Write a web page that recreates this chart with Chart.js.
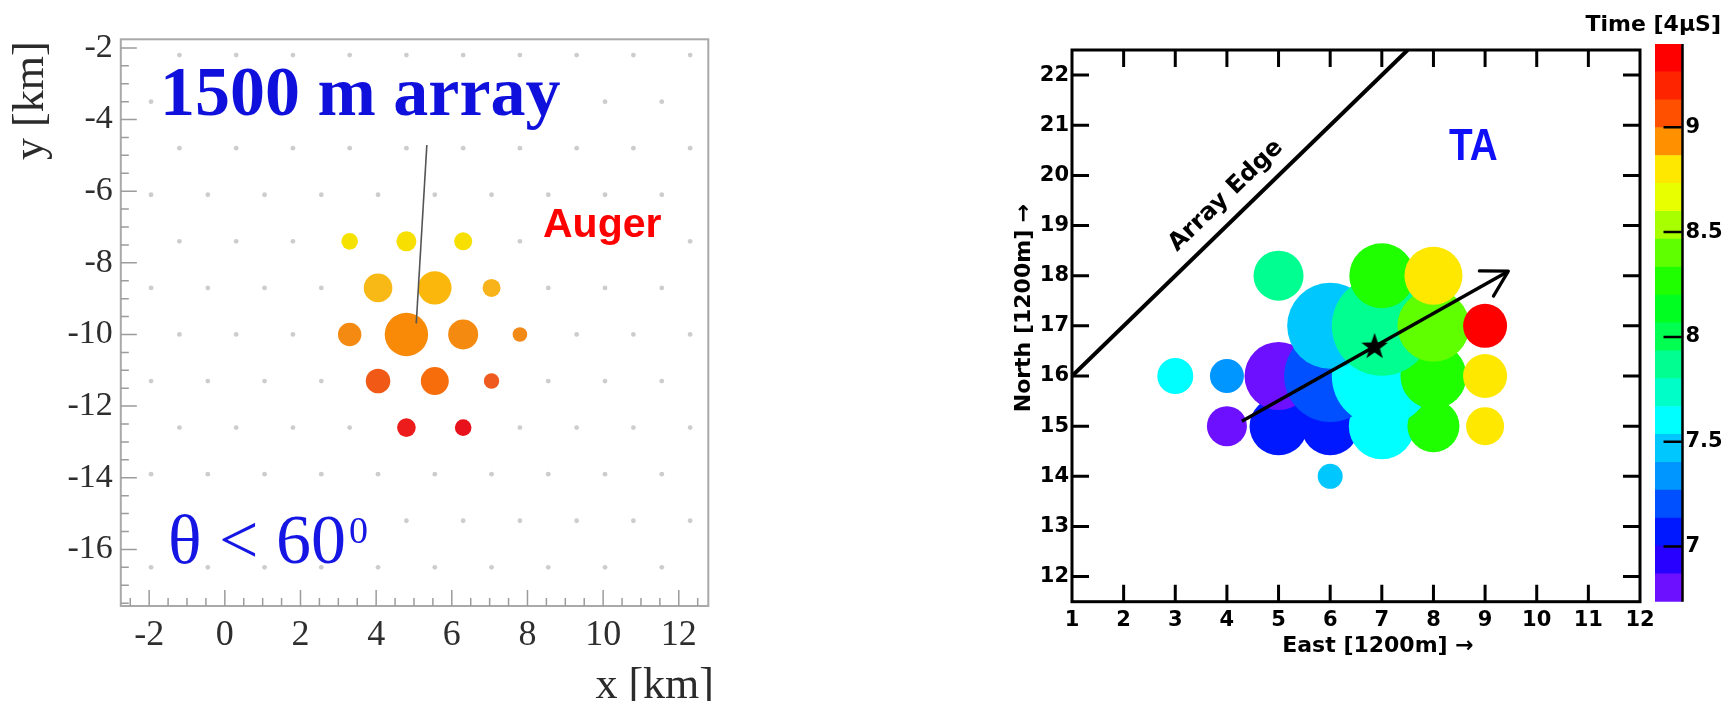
<!DOCTYPE html>
<html><head><meta charset="utf-8">
<script src="https://cdn.jsdelivr.net/npm/chart.js@4.4.1/dist/chart.umd.min.js"></script>
<style>
html,body{margin:0;padding:0;background:#fff;}
#wrap{position:relative;width:1727px;height:701px;overflow:hidden;background:#fff;}
canvas{position:absolute;top:0;}
</style></head><body>
<div id="wrap">
<canvas id="auger" style="left:0px;width:730px;height:701px" width="730" height="701"></canvas>
<canvas id="ta" style="left:990px;width:700px;height:701px" width="700" height="701"></canvas>
<canvas id="cbar" style="left:1560px;width:167px;height:701px" width="167" height="701"></canvas>
</div>
<script>
// ================= DATA =================
// --- Auger, 1500 m array ---
const augerXRange = [-2.75, 12.78];
const augerYRange = [-17.58, -1.76];
const augerXTicks = [-2, 0, 2, 4, 6, 8, 10, 12];
const augerYTicks = [-16, -14, -12, -10, -8, -6, -4, -2];
// station grid (grey dots): two interleaved row types
const gridRowsA = [-15.2, -12.6, -10.0, -7.4, -4.8, -2.2];
const gridColsA = [-1.2, 0.3, 1.8, 3.3, 4.8, 6.3, 7.8, 9.3, 10.8, 12.3];
const gridRowsB = [-16.5, -13.9, -11.3, -8.7, -6.1, -3.5];
const gridColsB = [-1.95, -0.45, 1.05, 2.55, 4.05, 5.55, 7.05, 8.55, 10.05, 11.55];
// triggered stations
const augerStX    = [3.3, 4.8, 6.3, 4.05, 5.55, 7.05, 3.3, 4.8, 6.3, 7.8, 4.05, 5.55, 7.05, 4.8, 6.3];
const augerStY    = [-7.4, -7.4, -7.4, -8.7, -8.7, -8.7, -10, -10, -10, -10, -11.3, -11.3, -11.3, -12.6, -12.6];
const augerSignal = [8.3, 10, 9, 14.3, 16.7, 9, 11.7, 21.7, 15, 7.3, 12.3, 14, 7.7, 9.3, 8.3];
// shower axis projection
const augerAxisX = [5.34, 5.06];
const augerAxisY = [-4.71, -9.69];

// --- TA ---
const taXRange = [1, 12];
const taYRange = [11.5, 22.5];
const taXTicks = [1, 2, 3, 4, 5, 6, 7, 8, 9, 10, 11, 12];
const taYTicks = [12, 13, 14, 15, 16, 17, 18, 19, 20, 21, 22];
const taStX    = [6, 4, 5, 6, 7, 8, 9, 3, 4, 5, 6, 7, 8, 9, 6, 7, 8, 9, 5, 7, 8];
const taStY    = [14, 15, 15, 15, 15, 15, 15, 16, 16, 16, 16, 16, 16, 16, 17, 17, 17, 17, 18, 18, 18];
const taSignal = [12.5, 20, 29, 29, 33, 26, 19, 18, 17, 34, 46, 50, 33, 22, 43, 50, 36, 22, 25, 32.5, 29];
const taTime   = [7.47, 6.80, 7.07, 7.07, 7.60, 8.24, 8.80, 7.60, 7.33, 6.85, 7.20, 7.60, 8.25, 8.80, 7.47, 7.90, 8.40, 9.33, 7.87, 8.27, 8.80];
const taEdgeX  = [1, 7.5];
const taEdgeY  = [16.0, 22.5];
const taArrowX = [4.29, 9.45];
const taArrowY = [15.10, 18.09];
const taCoreX  = [6.86];
const taCoreY  = [16.58];
// colour bar
const cbarRange = [6.737, 9.397];
const cbarTicks = [7, 7.5, 8, 8.5, 9];

// ================= STYLES =================
const augerStColor = ['#f6e200','#f7df00','#f7e000','#f8b916','#fbb70c','#f8b31a','#f48a12','#f88a08','#f58a10','#f28a18','#f05a16','#f76d0c','#ef5a1e','#ed1c1c','#e8121c'];
const paletteColors = ['#6c10ff','#2800ff','#0018ff','#0050ff','#0096ff','#00c8ff','#00ffff','#00ffc8','#00ff90','#00ff50','#00ff20','#20ff00','#60ff00','#a8ff00','#e8ff00','#ffe800','#ff9000','#ff5000','#ff2400','#ff0000'];
const NB = paletteColors.length;
function timeToColor(t){
  let i = Math.floor((t - cbarRange[0]) / (cbarRange[1] - cbarRange[0]) * NB);
  return paletteColors[Math.max(0, Math.min(NB - 1, i))];
}
function fixedTicks(list){ return s => { s.ticks = list.map(v => ({value: v})); }; }
function starImage(R, r, color){
  const c = document.createElement('canvas');
  const size = Math.ceil(R * 2 + 2);
  c.width = size; c.height = size;
  const g = c.getContext('2d');
  g.fillStyle = color; g.beginPath();
  for (let i = 0; i < 10; i++){
    const ang = -Math.PI / 2 + i * Math.PI / 5, rad = i % 2 === 0 ? R : r;
    const px = size / 2 + rad * Math.cos(ang), py = size / 2 + rad * Math.sin(ang);
    if (i === 0) g.moveTo(px, py); else g.lineTo(px, py);
  }
  g.closePath(); g.fill();
  return c;
}
const noGrid = { display: false, drawTicks: false };

// ================= AUGER CHART =================
const augerGrid = [];
gridRowsA.forEach(yv => gridColsA.forEach(xv => augerGrid.push({x: xv, y: yv})));
gridRowsB.forEach(yv => gridColsB.forEach(xv => augerGrid.push({x: xv, y: yv})));

const serif = '"Liberation Serif", "Times New Roman", serif';
const augerDeco = {
  id: 'augerDeco',
  afterDatasetsDraw(chart){
    const {ctx, chartArea: a, scales: {x, y}} = chart;
    ctx.save();
    ctx.strokeStyle = '#a9a9a9'; ctx.lineWidth = 2;
    ctx.strokeRect(a.left, a.top, a.right - a.left, a.bottom - a.top);
    ctx.strokeStyle = '#9c9c9c'; ctx.lineWidth = 1.5;
    ctx.beginPath();
    const isMajor = v => Math.abs(v / 2 - Math.round(v / 2)) < 1e-6;
    for (let v = -2.5; v <= 12.5 + 1e-9; v += 0.5){
      const px = x.getPixelForValue(v);
      ctx.moveTo(px, a.bottom); ctx.lineTo(px, a.bottom - (isMajor(v) ? 16 : 8));
    }
    for (let v = -17.5; v <= -2 + 1e-9; v += 0.5){
      const py = y.getPixelForValue(v);
      ctx.moveTo(a.left, py); ctx.lineTo(a.left + (isMajor(v) ? 16 : 8), py);
    }
    ctx.stroke();
    // text boxes (white backgrounds)
    ctx.fillStyle = '#fff';
    ctx.fillRect(158, 60, 424, 67);
    ctx.fillRect(164, 500, 222, 62);
    ctx.fillRect(538, 204, 134, 48);
    // 1500 m array
    ctx.fillStyle = '#1010dc';
    ctx.font = 'bold 70px ' + serif;
    ctx.textBaseline = 'alphabetic'; ctx.textAlign = 'left';
    ctx.fillText('1500 m array', 160, 115);
    // theta < 60^0
    ctx.fillStyle = '#1616e4';
    ctx.font = '70px ' + serif;
    const th = 'θ < 60';
    ctx.fillText(th, 168, 563);
    const w = ctx.measureText(th).width;
    ctx.font = '38px ' + serif;
    ctx.fillText('0', 168 + w + 3, 543);
    // Auger
    ctx.fillStyle = '#ff0000';
    ctx.font = 'bold 41px "Liberation Sans", Arial, sans-serif';
    ctx.fillText('Auger', 543, 237);
    // axis titles
    ctx.fillStyle = '#2b2b2b';
    ctx.font = '44px ' + serif;
    ctx.textAlign = 'right';
    ctx.fillText('x [km]', 714, 698);
    ctx.save();
    ctx.translate(43, 160); ctx.rotate(-Math.PI / 2);
    ctx.textAlign = 'left';
    ctx.fillText('y [km]', 0, 0);
    ctx.restore();
    ctx.restore();
  }
};

new Chart(document.getElementById('auger'), {
  type: 'bubble',
  data: { datasets: [
    { type: 'line', data: augerAxisX.map((v, i) => ({x: v, y: augerAxisY[i]})),
      borderColor: '#555555', borderWidth: 1.6, pointRadius: 0, fill: false, order: 0 },
    { type: 'bubble', data: augerStX.map((v, i) => ({x: v, y: augerStY[i], r: augerSignal[i]})),
      backgroundColor: augerStColor, borderWidth: 0, order: 1 },
    { type: 'scatter', data: augerGrid, pointRadius: 2.4, backgroundColor: '#cdcdcd',
      pointBackgroundColor: '#cdcdcd', borderWidth: 0, pointBorderWidth: 0, order: 2 }
  ]},
  options: {
    responsive: false, animation: false, events: [],
    layout: { padding: { left: 0, top: 39.3, right: 16.5, bottom: 0 } },
    plugins: { legend: { display: false }, tooltip: { enabled: false } },
    scales: {
      x: { type: 'linear', min: augerXRange[0], max: augerXRange[1],
        afterBuildTicks: fixedTicks(augerXTicks), afterFit: s => { s.height = 95; },
        grid: noGrid, border: { display: false },
        ticks: { font: { family: serif, size: 36 }, color: '#2e2e2e', padding: 8, maxRotation: 0, autoSkip: false } },
      y: { type: 'linear', min: augerYRange[0], max: augerYRange[1],
        afterBuildTicks: fixedTicks(augerYTicks), afterFit: s => { s.width = 120.8; },
        grid: noGrid, border: { display: false },
        ticks: { font: { family: serif, size: 34 }, color: '#2e2e2e', padding: 8, autoSkip: false } }
    }
  },
  plugins: [augerDeco]
});

// ================= TA CHART =================
const sansB = '"DejaVu Sans", Verdana, sans-serif';
const taDeco = {
  id: 'taDeco',
  afterDatasetsDraw(chart){
    const {ctx, chartArea: a, scales: {x, y}} = chart;
    ctx.save();
    // arrow head
    const am = chart.getDatasetMeta(1).data;
    const p0 = am[0], p1 = am[1];
    const ang = Math.atan2(p1.y - p0.y, p1.x - p0.x);
    ctx.strokeStyle = '#000'; ctx.lineWidth = 3.2; ctx.lineCap = 'round';
    ctx.beginPath();
    [Math.PI - 0.52, Math.PI + 0.52].forEach(d => {
      ctx.moveTo(p1.x, p1.y);
      ctx.lineTo(p1.x + 29 * Math.cos(ang + d), p1.y + 29 * Math.sin(ang + d));
    });
    ctx.stroke();
    ctx.lineCap = 'butt';
    // frame and inward ticks
    ctx.lineWidth = 3;
    ctx.strokeRect(a.left, a.top, a.right - a.left, a.bottom - a.top);
    ctx.beginPath();
    x.ticks.forEach(t => {
      const px = x.getPixelForValue(t.value);
      if (px <= a.left + 2 || px >= a.right - 2) return;
      ctx.moveTo(px, a.bottom); ctx.lineTo(px, a.bottom - 17);
      ctx.moveTo(px, a.top); ctx.lineTo(px, a.top + 17);
    });
    y.ticks.forEach(t => {
      const py = y.getPixelForValue(t.value);
      ctx.moveTo(a.left, py); ctx.lineTo(a.left + 17, py);
      ctx.moveTo(a.right, py); ctx.lineTo(a.right - 17, py);
    });
    ctx.stroke();
    // Array Edge label along the edge line
    const e = chart.getDatasetMeta(0).data;
    const dx = e[1].x - e[0].x, dy = e[1].y - e[0].y, L = Math.hypot(dx, dy);
    const ux = dx / L, uy = dy / L, nx = uy, ny = -ux;
    const cx = e[0].x + 236 * ux + 22 * nx, cy = e[0].y + 236 * uy + 22 * ny;
    ctx.save();
    ctx.translate(cx, cy); ctx.rotate(Math.atan2(dy, dx));
    ctx.fillStyle = '#000'; ctx.font = 'bold 24px ' + sansB;
    ctx.textAlign = 'center'; ctx.textBaseline = 'middle';
    ctx.fillText('Array Edge', 0, 0);
    ctx.restore();
    // TA label
    ctx.save();
    ctx.translate(1449 - 990, 160); ctx.scale(0.88, 1);
    ctx.fillStyle = '#1010f8'; ctx.font = 'bold 44px "Liberation Sans", Arial, sans-serif';
    ctx.textAlign = 'left'; ctx.textBaseline = 'alphabetic';
    ctx.fillText('TA', 0, 0);
    ctx.restore();
    // axis titles
    ctx.fillStyle = '#000'; ctx.font = 'bold 22px ' + sansB;
    ctx.textAlign = 'center'; ctx.textBaseline = 'alphabetic';
    ctx.fillText('East [1200m] \u2192', 1378 - 990, 652);
    ctx.save();
    ctx.translate(1030 - 990, 308); ctx.rotate(-Math.PI / 2);
    ctx.fillText('North [1200m] \u2192', 0, 0);
    ctx.restore();
    ctx.restore();
  }
};

const taSorted = taStX.map((v, i) => ({x: v, y: taStY[i], r: taSignal[i], c: timeToColor(taTime[i])}));
new Chart(document.getElementById('ta'), {
  type: 'bubble',
  data: { datasets: [
    { type: 'line', data: taEdgeX.map((v, i) => ({x: v, y: taEdgeY[i]})),
      borderColor: '#000', borderWidth: 4, pointRadius: 0, fill: false, order: 0 },
    { type: 'line', data: taArrowX.map((v, i) => ({x: v, y: taArrowY[i]})),
      borderColor: '#000', borderWidth: 3.4, pointRadius: 0, fill: false, order: 0 },
    { type: 'scatter', data: taCoreX.map((v, i) => ({x: v, y: taCoreY[i]})),
      pointStyle: starImage(14, 5.6, '#000'), pointRadius: 12, order: 0 },
    { type: 'bubble', data: taSorted.map(d => ({x: d.x, y: d.y, r: d.r})),
      backgroundColor: taSorted.map(d => d.c), borderWidth: 0, order: 1 }
  ]},
  options: {
    responsive: false, animation: false, events: [],
    layout: { padding: { left: 0, top: 44, right: 37, bottom: 0 } },
    plugins: { legend: { display: false }, tooltip: { enabled: false } },
    scales: {
      x: { type: 'linear', min: taXRange[0], max: taXRange[1],
        afterBuildTicks: fixedTicks(taXTicks), afterFit: s => { s.height = 99.3; },
        grid: noGrid, border: { display: false },
        ticks: { font: { family: sansB, size: 21, weight: 'bold' }, color: '#000', padding: 6, maxRotation: 0, autoSkip: false } },
      y: { type: 'linear', min: taYRange[0], max: taYRange[1],
        afterBuildTicks: fixedTicks(taYTicks), afterFit: s => { s.width = 82; },
        grid: noGrid, border: { display: false },
        ticks: { font: { family: sansB, size: 21, weight: 'bold' }, color: '#000', padding: 3, autoSkip: false } }
    }
  },
  plugins: [taDeco]
});

// ================= COLOUR BAR =================
const bandW = (cbarRange[1] - cbarRange[0]) / NB;
const cbarDeco = {
  id: 'cbarDeco',
  afterDatasetsDraw(chart){
    const {ctx, chartArea: a, scales: {y}} = chart;
    ctx.save();
    ctx.strokeStyle = '#000'; ctx.lineWidth = 2.5;
    ctx.beginPath();
    ctx.moveTo(a.right, a.top); ctx.lineTo(a.right, a.bottom);
    y.ticks.forEach(t => {
      const py = y.getPixelForValue(t.value);
      ctx.moveTo(a.right, py); ctx.lineTo(a.right - 19, py);
    });
    ctx.stroke();
    ctx.fillStyle = '#000'; ctx.font = 'bold 22px ' + sansB;
    ctx.textAlign = 'right'; ctx.textBaseline = 'alphabetic';
    ctx.fillText('Time [4\u03bcS]', 1721 - 1560, 31);
    ctx.restore();
  }
};
new Chart(document.getElementById('cbar'), {
  type: 'bar',
  data: { labels: ['t'], datasets: paletteColors.map((c, i) => ({
    data: [[cbarRange[0] + i * bandW, cbarRange[0] + (i + 1) * bandW]],
    backgroundColor: c, borderWidth: 0, barPercentage: 1, categoryPercentage: 1, grouped: false
  }))},
  options: {
    responsive: false, animation: false, events: [],
    layout: { padding: { left: 95, top: 44, right: 0, bottom: 99.3 } },
    plugins: { legend: { display: false }, tooltip: { enabled: false } },
    scales: {
      x: { display: false },
      y: { position: 'right', type: 'linear', min: cbarRange[0], max: cbarRange[1],
        afterBuildTicks: fixedTicks(cbarTicks), afterFit: s => { s.width = 44.5; },
        grid: noGrid, border: { display: false },
        ticks: { font: { family: sansB, size: 21, weight: 'bold' }, color: '#000', padding: 3, autoSkip: false,
          callback: v => String(v) } }
    }
  },
  plugins: [cbarDeco]
});
</script>
</body></html>
